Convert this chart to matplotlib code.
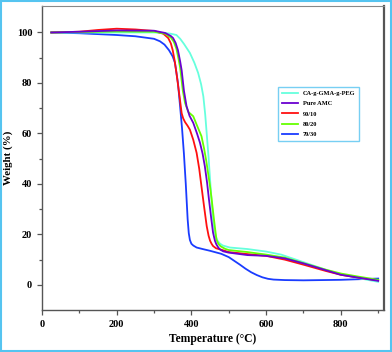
import matplotlib
matplotlib.use("Agg")
import matplotlib.pyplot as plt
from matplotlib.patches import Rectangle

labels = ["CA-g-GMA-g-PEG", "Pure AMC", "90/10", "80/20", "70/30"]
colors = ["#66ffdd", "#6a00d0", "#ff1010", "#66ff00", "#1a3cff"]

t_peg = [25, 100, 200, 300, 330, 345, 360, 370, 380, 396, 408, 418, 426, 432, 437, 441, 446, 450, 454, 458, 462, 466, 470, 476, 484, 503, 550, 600, 640, 700, 760, 800, 850, 900]
w_peg = [100, 100, 100, 100, 99.8, 99.5, 99, 97.5, 95.5, 91.9, 88, 84, 79.5, 74.7, 67.5, 60, 50.5, 41.8, 33.5, 26, 21.5, 19, 17.5, 16.4, 15.6, 14.8, 14.2, 13.2, 12, 9, 6, 4.2, 2.6, 1.2]

t_amc = [25, 100, 200, 300, 330, 345, 351, 358, 364, 370, 374, 380, 387, 395, 405, 415, 423, 430, 436, 442, 447, 453, 458, 463, 467, 472, 476, 485, 499, 550, 600, 650, 700, 760, 800, 850, 900]
w_amc = [100, 100.3, 100.8, 100.7, 99.8, 98.6, 97.8, 95.8, 93, 88.5, 85, 77, 70.8, 67, 64.2, 60, 56.3, 52, 47, 40.5, 33.9, 26.5, 20.7, 17.5, 16, 14.8, 14.1, 13.3, 12.8, 11.8, 11.5, 10.5, 8.5, 5.8, 4, 2.8, 1.6]

t_9010 = [25, 100, 150, 200, 250, 300, 325, 338, 345, 350, 355, 360, 368, 374, 378, 383, 390, 396, 405, 414, 421, 427, 434, 441, 446, 450, 454, 458, 466, 476, 500, 550, 600, 650, 700, 760, 800, 850, 900]
w_9010 = [100, 100.3, 101, 101.5, 101.2, 100.6, 99.5, 97.8, 95.7, 93, 89, 84, 75, 68, 66, 64.5, 63, 61.5, 57.5, 52.3, 46, 39, 31, 23.3, 19.5, 17.5, 16.3, 15.4, 14.5, 14.1, 13, 12.2, 11.5, 10, 8, 5.5, 4, 2.8, 1.8]

t_8020 = [25, 100, 200, 300, 330, 345, 353, 360, 365, 370, 377, 383, 392, 405, 416, 427, 434, 440, 445, 450, 455, 460, 467, 472, 478, 490, 500, 550, 600, 650, 700, 760, 800, 850, 900]
w_8020 = [100, 100.2, 100.4, 100.3, 99.5, 98, 96.3, 93.5, 90, 86, 77, 72.1, 68.5, 66.8, 62.8, 58.9, 54, 49, 44, 39, 33, 26.5, 18, 16.3, 15.3, 14.3, 13.8, 13, 12, 10.8, 8.6, 6, 4.5, 3.2, 2.0]

t_7030 = [25, 100, 200, 250, 300, 316, 328, 340, 350, 356, 364, 369, 375, 380, 385, 390, 393, 396, 400, 405, 414, 430, 450, 480, 500, 515, 530, 545, 560, 575, 590, 605, 620, 650, 700, 800, 900]
w_7030 = [100, 99.7, 99, 98.5, 97.5, 96.5, 95.2, 93, 90.5, 88, 80, 72, 62, 52, 40, 26, 20.5, 17.8, 16.3, 15.6, 14.8, 14.2, 13.5, 12.3, 11, 9.5, 8, 6.4, 5, 3.9, 3, 2.4, 2.1, 1.9, 1.8, 2.0, 2.5]

series = [(t_peg, w_peg), (t_amc, w_amc), (t_9010, w_9010), (t_8020, w_8020), (t_7030, w_7030)]

xticks = [0, 200, 400, 600, 800]
yticks = [0, 20, 40, 60, 80, 100]

plt.rcParams['font.family'] = ['Liberation Serif', 'DejaVu Serif']
plt.rcParams['font.weight'] = 'bold'

fig = plt.figure(figsize=(3.92, 3.52), dpi=100)
ax = fig.add_axes([0.107, 0.119, 0.873, 0.864])

draw_order = [4, 0, 2, 3, 1]
for i in draw_order:
    t, w = series[i]
    ax.plot(t, w, color=colors[i], lw=1.3, label=labels[i], zorder=3 + (1 if i == 1 else 0),
            solid_joinstyle='round')

ax.set_xlim(0, 916)
ax.set_ylim(-10, 110.5)
ax.set_xticks(xticks)
ax.set_yticks(yticks)
ax.set_xticks([100, 300, 500, 700, 900], minor=True)
ax.set_yticks([10, 30, 50, 70, 90], minor=True)
ax.tick_params(which='both', direction='out', colors='#555555', labelcolor='black', labelsize=7.5, width=0.9)
ax.tick_params(which='major', length=3.5)
ax.tick_params(which='minor', length=2)
for lab in ax.get_xticklabels() + ax.get_yticklabels():
    lab.set_fontweight('bold')

for s in ['left', 'bottom']:
    ax.spines[s].set_color('#555555')
    ax.spines[s].set_linewidth(1.0)
ax.spines['right'].set_color('#555555')
ax.spines['right'].set_linewidth(1.6)
ax.spines['top'].set_color('#888888')
ax.spines['top'].set_linewidth(0.8)

ax.set_xlabel("Temperature (°C)", fontsize=8.3, fontweight='bold', labelpad=3)
ax.set_ylabel("Weight (%)", fontsize=7.8, fontweight='bold', labelpad=3)

handles, labs = ax.get_legend_handles_labels()
order = [labs.index(l) for l in labels]
leg = ax.legend([handles[k] for k in order], [labs[k] for k in order],
                loc='upper left', bbox_to_anchor=(0.68, 0.745),
                frameon=True, fancybox=False, handlelength=2.6, handletextpad=0.7,
                labelspacing=0.75, borderpad=0.6, prop={'weight': 'bold', 'size': 4.6})
leg.get_frame().set_edgecolor('#55c4f0')
leg.get_frame().set_linewidth(1.0)

fig.patches.append(Rectangle((0.003, 0.003), 0.994, 0.994, transform=fig.transFigure,
                             fill=False, edgecolor='#55c4f0', lw=1.5))

fig.savefig("out.png", dpi=100)
